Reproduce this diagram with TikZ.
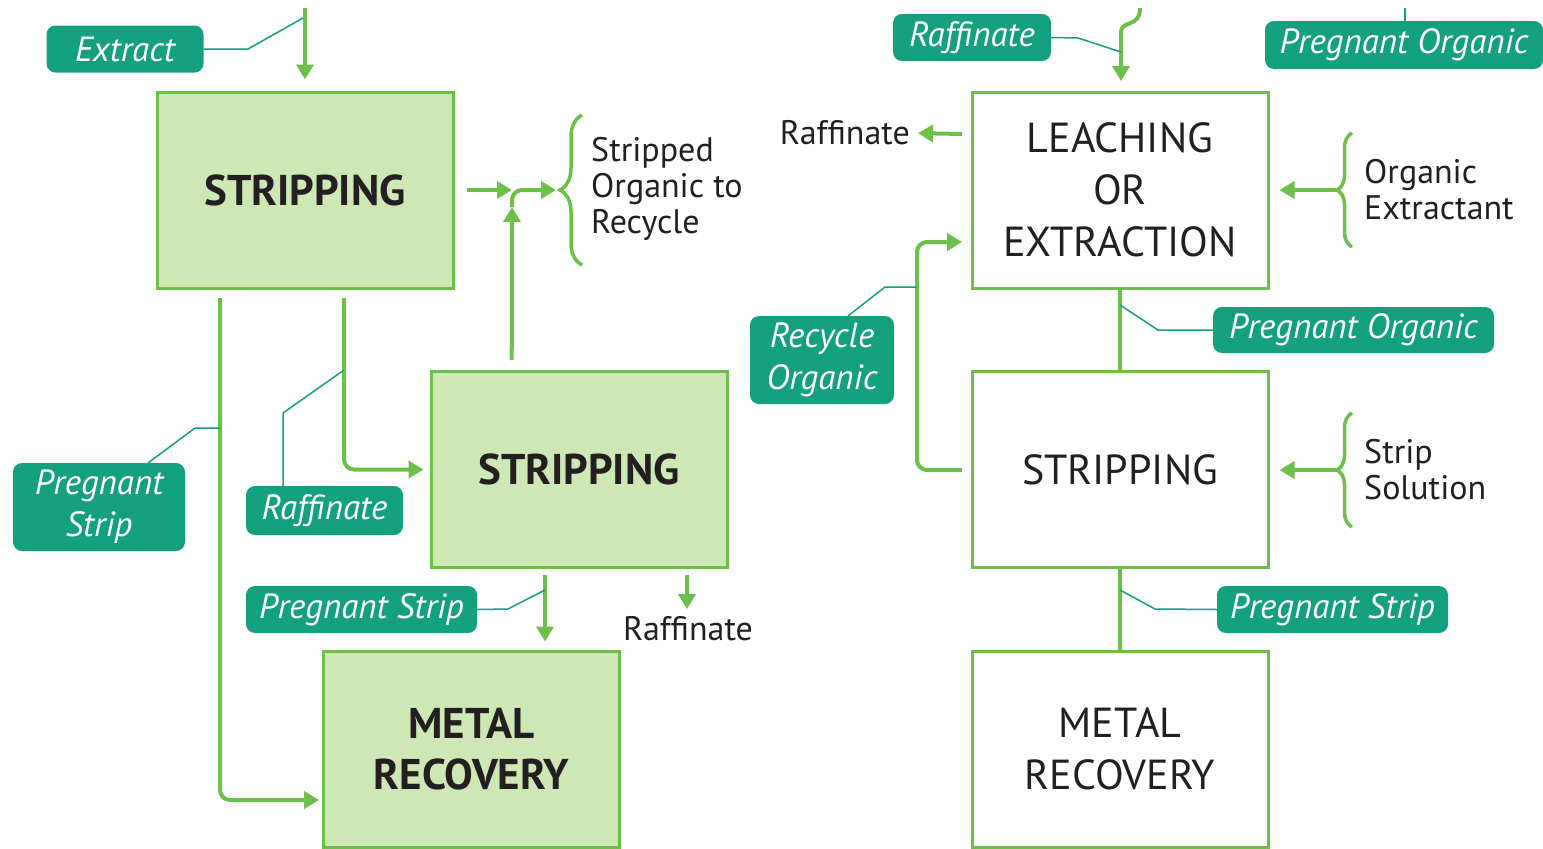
\documentclass[tikz,border=0pt]{standalone}
\usepackage{fontspec}
\setmainfont{PT Sans}
\usetikzlibrary{arrows.meta,decorations.pathreplacing,calc}
\definecolor{tealc}{HTML}{13A07F}
\definecolor{boxfill}{HTML}{CDE8B5}
\definecolor{gline}{HTML}{6CC04A}
\definecolor{ink}{HTML}{231F20}
\begin{document}
\begin{tikzpicture}[x=1pt,y=-1pt,
  procbox/.style={draw=gline,line width=3pt,minimum width=296pt,minimum height=196pt,inner sep=0pt,align=center,text=ink},
  greenbox/.style={procbox,fill=boxfill,font=\bfseries\fontsize{43}{51}\selectfont},
  whitebox/.style={procbox,fill=white,font=\fontsize{42}{52}\selectfont},
  tag/.style={fill=tealc,rounded corners=9pt,text=white,inner sep=0pt,align=center,font=\itshape\fontsize{35}{42}\selectfont},
  note/.style={text=ink,align=left,inner sep=0pt,font=\fontsize{34}{36}\selectfont},
  flow/.style={draw=gline,line width=4pt,rounded corners=10pt},
  arr/.style={-{Triangle[length=15pt,width=17pt]}},
  lead/.style={draw=tealc,line width=1.5pt},
  curly/.style={draw=gline,line width=3.5pt,decorate,decoration={brace,amplitude=#1}},
]
\useasboundingbox[fill=white] (0,0) rectangle (1543,849);

% process boxes
\node[greenbox] (s1) at (305,190) {STRIPPING};
\node[greenbox] (s2) at (579,469.5) {STRIPPING};
\node[greenbox] (m1) at (471.5,749) {METAL\\RECOVERY};
\node[whitebox] (le) at (1120,190) {LEACHING\\OR\\EXTRACTION};
\node[whitebox] (s3) at (1120,469.5) {STRIPPING};
\node[whitebox] (m2) at (1120,749) {METAL\\RECOVERY};

% tags
\node[tag,minimum width=157pt,minimum height=47pt] (tExtract) at (125,49) {Extract};
\node[tag,minimum width=158pt,minimum height=47pt] (tRaffTop) at (972,37.5) {Raffinate};
\node[tag,minimum width=278pt,minimum height=48pt] (tPOTop) at (1404,45) {Pregnant Organic};
\node[tag,minimum width=172pt,minimum height=88pt] (tPSLeft) at (99,507) {Pregnant\\Strip};
\node[tag,minimum width=157pt,minimum height=49pt] (tRaffLeft) at (324.5,510.5) {Raffinate};
\node[tag,minimum width=231pt,minimum height=47pt] (tPSMid) at (361.5,609.5) {Pregnant Strip};
\node[tag,minimum width=144pt,minimum height=88pt] (tRecycle) at (822,360) {Recycle\\Organic};
\node[tag,minimum width=281pt,minimum height=46pt] (tPORight) at (1353.5,330) {Pregnant Organic};
\node[tag,minimum width=231pt,minimum height=47pt] (tPSRight) at (1332.5,609.5) {Pregnant Strip};

% plain notes
\node[note,anchor=west] (nStripped) at (591,189) {Stripped\\Organic to\\Recycle};
\node[note] (nRaffBot) at (688,629) {Raffinate};
\node[note,anchor=east] (nRaffRight) at (910,133) {Raffinate};
\node[note,anchor=west] (nOrgExt) at (1364,189.5) {Organic\\Extractant};
\node[note,anchor=west] (nStripSol) at (1364,469.5) {Strip\\Solution};

% junction coordinates
\coordinate (topL) at (305,8);
\coordinate (j1) at (512,190);
\coordinate (j1b) at (512,207);
\coordinate (b1) at (556,190);
\coordinate (a1) at (220,298);
\coordinate (a1m) at (220,428);
\coordinate (m1in) at (319,800);
\coordinate (r1) at (344,298);
\coordinate (r1m) at (344,370);
\coordinate (ps2) at (545,575);
\coordinate (ps2m) at (545,590);
\coordinate (rf2) at (687,575);
\coordinate (topR) at (1140,8);
\coordinate (topRm) at (1121,52);
\coordinate (raffR) at (962,134);
\coordinate (oeTip) at (1336,190);
\coordinate (ssTip) at (1336,470);
\coordinate (poM) at (1120,305);
\coordinate (psM) at (1120,590);
\coordinate (rcS) at (962,470);
\coordinate (rcE) at (962,242);
\coordinate (rcB) at (917,470);
\coordinate (rcT) at (917,242);
\coordinate (rcM) at (917,287);
\coordinate (poTopEnd) at (1405,8);

% left flows
\draw[flow,arr,shorten >=11pt] (topL) -- (s1.north);
\draw[flow,arr,shorten <=12pt] (s1.east) -- (j1);
\draw[flow,arr] ($(s2.north west)!0.275!(s2.north east)+(0,-10)$) -- (j1b);
\draw[flow,arr] (j1b) |- (b1);
\draw[curly=22pt] (582,265) -- (582,115);
\draw[flow,arr] (a1) |- (m1in);
\draw[flow,arr,shorten >=6pt] (r1) |- (s2.west);
\draw[flow,arr,shorten >=8pt] (ps2) -- (ps2 |- m1.north);
\draw[flow,arr] (rf2) -- ($(rf2)+(0,34)$);

% right flows
\draw[flow,arr,shorten >=11pt] (topR) .. controls (1140,28) and (1121,20) .. (1121,42) -- (1121,92);
\draw[flow,arr,shorten >=8pt] (raffR) -- (nRaffRight.east);
\draw[curly=15pt] (1352,247) -- (1352,133);
\draw[flow,arr,shorten >=10pt] (oeTip) -- (le.east |- oeTip);
\draw[curly=15pt] (1352,527) -- (1352,413);
\draw[flow,arr,shorten >=10pt] (ssTip) -- (s3.east |- ssTip);
\draw[flow] (le.south) -- (s3.north);
\draw[flow] (s3.south) -- (m2.north);
\draw[flow,arr] (rcS) -- (rcB) -- (rcT) -- (rcE);

% leader lines
\draw[lead] (tExtract.east) -- (248,49) -- (303,18);
\draw[lead] (tRaffTop.east) -- (1078,38) -- (topRm);
\draw[lead] (tPOTop.north -| poTopEnd) -- (poTopEnd);
\draw[lead] (148,463) -- (195,428) -- (a1m);
\draw[lead] (283,486) -- (283,413) -- (r1m);
\draw[lead] (tPSMid.east) -- (508,609) -- (ps2m);
\draw[lead] (848,316) -- (885,287) -- (rcM);
\draw[lead] (tPORight.west) -- (1158,330) -- (poM);
\draw[lead] (tPSRight.west) -- (1155,609) -- (psM);
\end{tikzpicture}
\end{document}
